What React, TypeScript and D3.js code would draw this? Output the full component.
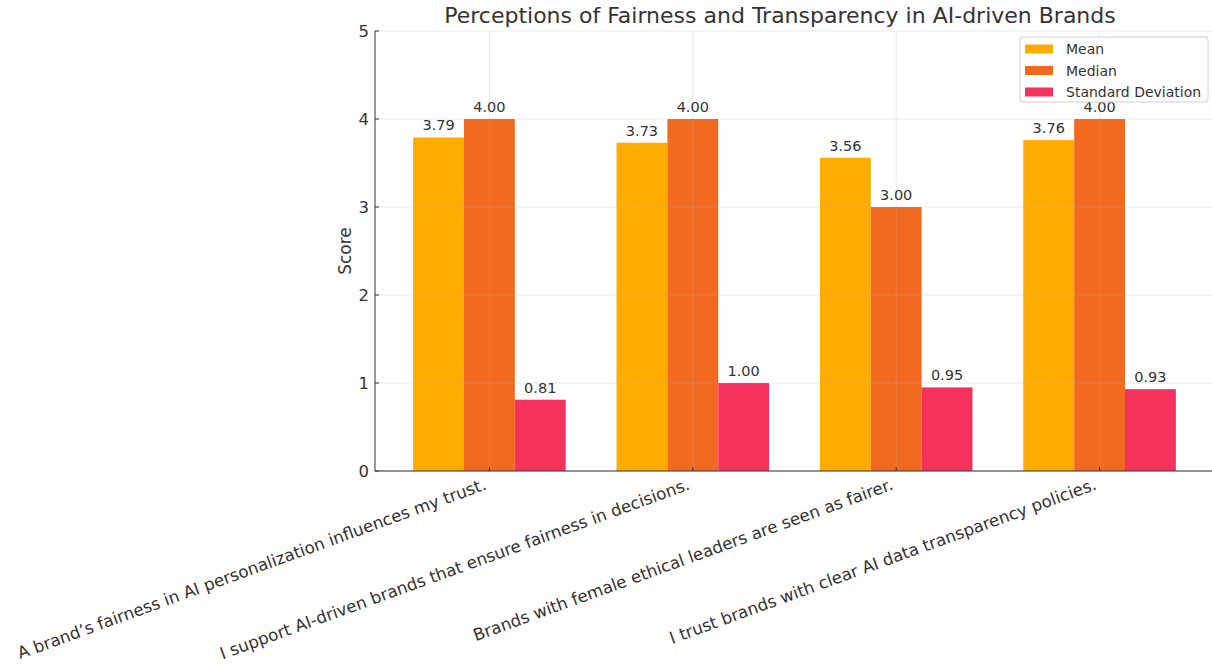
import React from "react";
import * as d3 from "d3";

// Survey statements and their summary statistics
const categories = [
  "A brand’s fairness in AI personalization influences my trust.",
  "I support AI-driven brands that ensure fairness in decisions.",
  "Brands with female ethical leaders are seen as fairer.",
  "I trust brands with clear AI data transparency policies.",
];
const meanValues = [3.79, 3.73, 3.56, 3.76];
const medianValues = [4.0, 4.0, 3.0, 4.0];
const stdValues = [0.81, 1.0, 0.95, 0.93];

const seriesNames = ["Mean", "Median", "Standard Deviation"];
const seriesColors = ["#FFAB00", "#F26A1F", "#F5325B"];
const yTicks = [0, 1, 2, 3, 4, 5];

const WIDTH = 1212;
const HEIGHT = 664;
const FONT = "'DejaVu Sans', Verdana, sans-serif";

export default function App() {
  const series = [meanValues, medianValues, stdValues];
  const barWidth = 0.25;
  const n = categories.length;
  const lo = -0.375;
  const hi = n - 1 + 0.375;
  const pad = (hi - lo) * 0.05;

  const x = d3.scaleLinear().domain([lo - pad, hi + pad]).range([375, 1214]);
  const y = d3.scaleLinear().domain([0, 5]).range([471, 31]);
  const unit = x(1) - x(0);

  const [x0, x1] = x.range();
  const [yBottom, yTop] = y.range();

  return (
    <svg
      width={WIDTH}
      height={HEIGHT}
      style={{ position: "absolute", left: 0, top: 0, background: "#fff" }}
      fontFamily={FONT}
    >
      {/* bars */}
      {series.map((vals, s) =>
        vals.map((v, i) => {
          const cx = x(i + (s - 1) * barWidth);
          return (
            <rect
              key={`b${s}-${i}`}
              x={cx - (barWidth * unit) / 2}
              y={y(v)}
              width={barWidth * unit}
              height={y(0) - y(v)}
              fill={seriesColors[s]}
            />
          );
        })
      )}

      {/* grid */}
      <g stroke="#b0b0b0" strokeOpacity={0.35} strokeWidth={0.8}>
        {yTicks.map((t) => (
          <line key={`gy${t}`} x1={x0} x2={x1} y1={y(t)} y2={y(t)} />
        ))}
        {categories.map((_, i) => (
          <line key={`gx${i}`} x1={x(i)} x2={x(i)} y1={yTop} y2={yBottom} />
        ))}
      </g>

      {/* value labels */}
      {series.map((vals, s) =>
        vals.map((v, i) => (
          <text
            key={`l${s}-${i}`}
            x={x(i + (s - 1) * barWidth)}
            y={y(v) - 7}
            textAnchor="middle"
            fontSize={14.5}
            fill="#333"
          >
            {v.toFixed(2)}
          </text>
        ))
      )}

      {/* axes */}
      <g stroke="#333" strokeWidth={1}>
        <line x1={x0} x2={x0} y1={yTop} y2={yBottom} />
        <line x1={x0} x2={x1} y1={yBottom} y2={yBottom} />
        {yTicks.map((t) => (
          <line key={`ty${t}`} x1={x0} x2={x0 + 4} y1={y(t)} y2={y(t)} />
        ))}
        {categories.map((_, i) => (
          <line key={`tx${i}`} x1={x(i)} x2={x(i)} y1={yBottom} y2={yBottom - 4} />
        ))}
      </g>
      {yTicks.map((t) => (
        <text
          key={`yl${t}`}
          x={x0 - 6}
          y={y(t) + 6}
          textAnchor="end"
          fontSize={16.5}
          fill="#333"
        >
          {t}
        </text>
      ))}
      {categories.map((c, i) => (
        <text
          key={`xl${i}`}
          transform={`translate(${x(i) - 2},${yBottom + 18}) rotate(-20)`}
          textAnchor="end"
          fontSize={16.7}
          fill="#333"
        >
          {c}
        </text>
      ))}

      {/* axis title */}
      <text
        transform={`translate(351,${(yTop + yBottom) / 2}) rotate(-90)`}
        textAnchor="middle"
        fontSize={17}
        fill="#333"
      >
        Score
      </text>

      {/* chart title */}
      <text x={780} y={23} textAnchor="middle" fontSize={22} fill="#333">
        Perceptions of Fairness and Transparency in AI-driven Brands
      </text>

      {/* legend */}
      <g>
        <rect
          x={1020}
          y={37}
          width={188}
          height={65}
          rx={3}
          fill="#fff"
          fillOpacity={0.8}
          stroke="#d0d0d0"
        />
        {seriesNames.map((name, s) => (
          <g key={`lg${s}`} transform={`translate(1025,${49 + s * 21.5})`}>
            <rect x={0} y={-4.5} width={28} height={9} fill={seriesColors[s]} />
            <text x={41} y={5} fontSize={14} fill="#333">
              {name}
            </text>
          </g>
        ))}
      </g>
    </svg>
  );
}
